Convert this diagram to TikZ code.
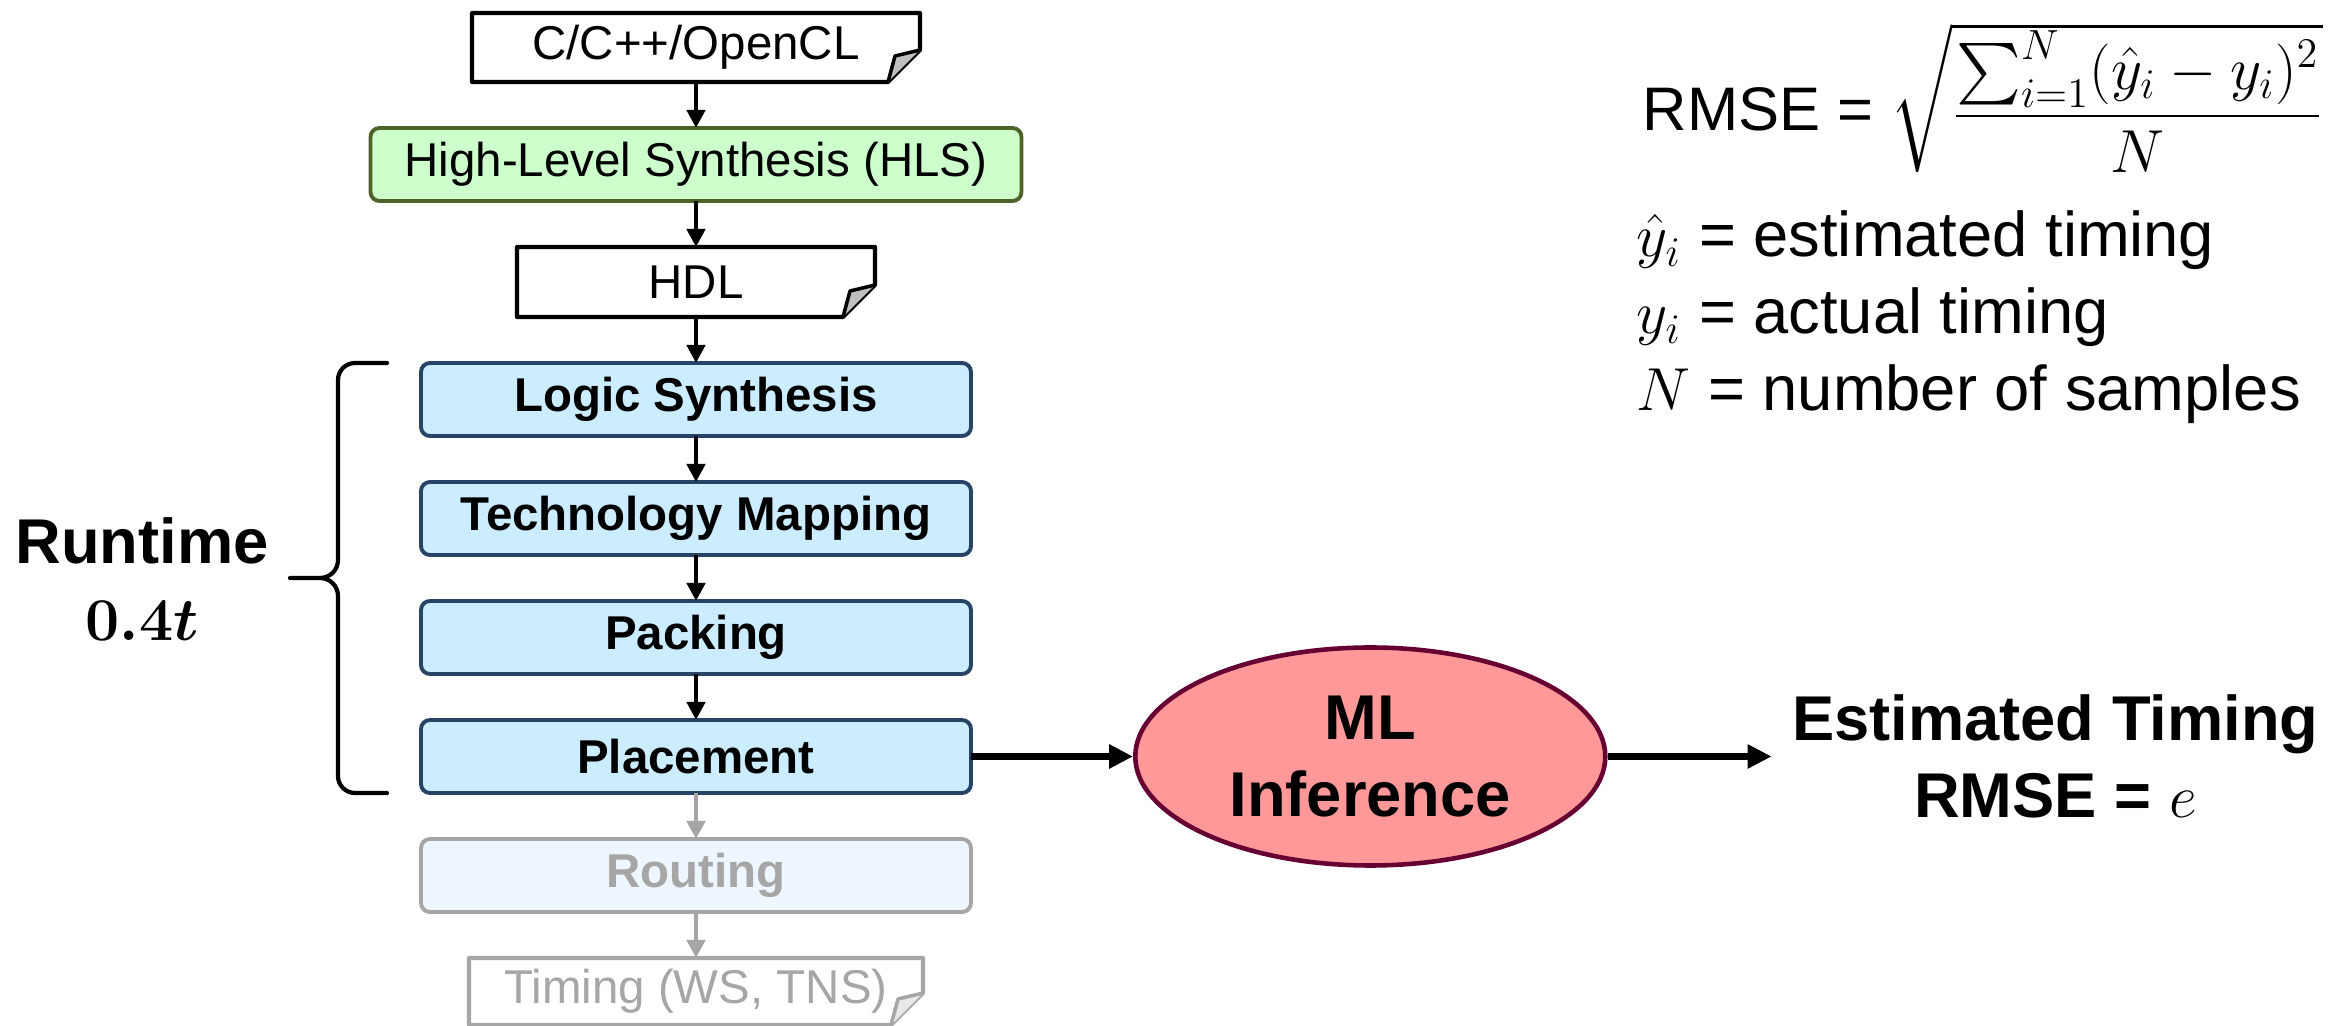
\documentclass[tikz,border=0pt]{standalone}
\usepackage{amsmath}
\usepackage{amsfonts}
\usepackage{fontspec}
\setmainfont{Liberation Sans}
\usetikzlibrary{positioning,shapes.geometric,arrows.meta}

\definecolor{flowblue}{HTML}{CCECFF}
\definecolor{flowblueline}{HTML}{274466}
\definecolor{hlsgreen}{HTML}{CCFFCC}
\definecolor{hlsline}{HTML}{4F6228}
\definecolor{mlred}{HTML}{FF9999}
\definecolor{mlline}{HTML}{660033}
\definecolor{fadegray}{HTML}{A6A6A6}
\definecolor{fadeblue}{HTML}{EEF7FF}

\tikzset{
  docbox/.style={minimum height=0.69cm, inner sep=0pt, outer sep=0pt, font=\fontsize{13.5}{16}\selectfont},
  stepbox/.style={draw=flowblueline, fill=flowblue, line width=1.1pt, rounded corners=0.09cm, outer sep=0pt,
    minimum width=5.50cm, minimum height=0.73cm, font=\fontsize{13.5}{16}\selectfont\bfseries},
  flow/.style={-{Triangle[length=0.18cm,width=0.18cm]}, line width=1.3pt},
  bigflow/.style={-{Triangle[length=0.24cm,width=0.23cm]}, line width=2pt},
  bigtext/.style={font=\fontsize{18}{22}\selectfont},
}

% outline of a document node with a folded corner
\newcommand{\docoutline}[2]{%
  \draw[#2, line width=1.2pt, line join=round] (#1.north west) -- (#1.north east)
    -- ([yshift=0.32cm]#1.south east) -- ([xshift=-0.32cm]#1.south east) -- (#1.south west) -- cycle;
  \draw[#2, line width=1pt, line join=round, fill=#2!25] ([yshift=0.32cm]#1.south east)
    -- ([xshift=-0.25cm,yshift=0.26cm]#1.south east) -- ([xshift=-0.32cm]#1.south east);
}

\begin{document}
\begin{tikzpicture}
\useasboundingbox (0,0) rectangle (23.43,-10.26);

% design flow
\node[docbox, minimum width=4.48cm] (src) at (6.96,-0.475) {C/C++/OpenCL};
\node[stepbox, draw=hlsline, fill=hlsgreen, minimum width=6.51cm, font=\fontsize{13.5}{16}\selectfont, below=0.46cm of src] (hls) {High-Level Synthesis (HLS)};
\node[docbox, minimum width=3.58cm, minimum height=0.70cm, below=0.46cm of hls] (hdl) {HDL};
\node[stepbox, below=0.46cm of hdl] (ls) {Logic Synthesis};
\node[stepbox, below=0.46cm of ls] (tm) {Technology Mapping};
\node[stepbox, below=0.46cm of tm] (pack) {Packing};
\node[stepbox, below=0.46cm of pack] (place) {Placement};
\node[stepbox, draw=fadegray, fill=fadeblue, text=fadegray, below=0.46cm of place] (route) {Routing};
\node[docbox, minimum width=4.54cm, minimum height=0.67cm, text=fadegray, below=0.46cm of route] (timing) {Timing (WS, TNS)};

\docoutline{src}{black}
\docoutline{hdl}{black}
\docoutline{timing}{fadegray}

\draw[flow] (src) -- (hls);
\draw[flow] (hls) -- (hdl);
\draw[flow] (hdl) -- (ls);
\draw[flow] (ls) -- (tm);
\draw[flow] (tm) -- (pack);
\draw[flow] (pack) -- (place);
\draw[flow, fadegray] (place) -- (route);
\draw[flow, fadegray] (route) -- (timing);

% runtime brace
\draw[line width=1.2pt, line cap=round, line join=round] (3.87,-3.63) -- (3.55,-3.63)
  to[out=180,in=90] (3.38,-3.80) -- (3.38,-5.60) to[out=270,in=0] (3.20,-5.78) -- (2.90,-5.78)
  -- (3.20,-5.78) to[out=0,in=90] (3.38,-5.96) -- (3.38,-7.76) to[out=270,in=180] (3.55,-7.93) -- (3.87,-7.93);
\node[bigtext, font=\fontsize{18}{22}\selectfont\bfseries, align=center] (runtime) at (1.42,-5.79) {Runtime\\$\boldsymbol{0.4t}$};

% inference
\node[ellipse, draw=mlline, fill=mlred, line width=1.3pt, minimum width=4.70cm, minimum height=2.18cm, inner sep=0pt,
  align=center, font=\fontsize{18}{22}\selectfont\bfseries, right=1.62cm of place] (ml) {ML\\Inference};
\node[font=\fontsize{18}{22}\selectfont\bfseries, align=center, inner sep=0.2cm, right=1.64cm of ml] (est) {Estimated Timing\\RMSE = $e$};
\draw[bigflow] (place) -- (ml);
\draw[bigflow] (ml) -- (est);

% metric
\node[anchor=base west, inner sep=0pt, font=\fontsize{17.5}{21}\selectfont] (rmse) at (16.42,-1.31) {RMSE = $\sqrt{\dfrac{\textstyle\sum_{i=1}^{N}(\hat{y}_i-y_i)^2}{N}}$};
\node[bigtext, anchor=base west, inner sep=0pt] (yhat) at (16.36,-2.57) {$\hat{y}_i$ = estimated timing};
\node[bigtext, anchor=base west, inner sep=0pt] (ytrue) at (16.36,-3.34) {$y_i$ = actual timing};
\node[bigtext, anchor=base west, inner sep=0pt] (nsamp) at (16.36,-4.11) {$N$ = number of samples};
\end{tikzpicture}
\end{document}
